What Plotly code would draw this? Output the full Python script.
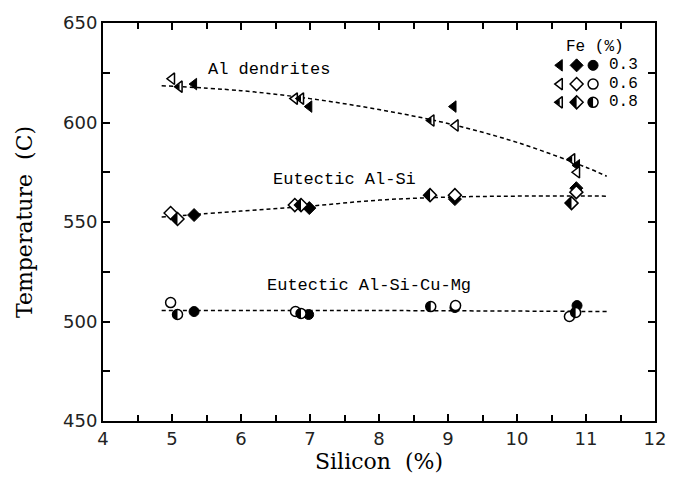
import math
import plotly.graph_objects as go

# ---------------- data ----------------
fe_levels = ["0.3", "0.6", "0.8"]

# Al dendrites (left triangles)
dend_x_03 = [5.32, 6.99, 9.08, 10.87]
dend_y_03 = [619.3, 608.0, 608.0, 578.5]
dend_x_06 = [5.00, 6.78, 9.11, 10.87]
dend_y_06 = [622.0, 612.0, 598.5, 575.0]
dend_x_08 = [5.11, 6.87, 8.76, 10.80]
dend_y_08 = [618.0, 612.0, 601.0, 581.5]

# Eutectic Al-Si (diamonds)
alsi_x_03 = [5.32, 6.99, 9.10, 10.86]
alsi_y_03 = [553.5, 557.0, 561.5, 567.0]
alsi_x_06 = [4.98, 6.78, 9.10, 10.86]
alsi_y_06 = [554.5, 558.5, 563.5, 565.0]
alsi_x_08 = [5.08, 6.87, 8.74, 10.79]
alsi_y_08 = [551.5, 558.5, 563.5, 559.5]

# Eutectic Al-Si-Cu-Mg (circles)
cumg_x_03 = [5.32, 6.98, 9.10, 10.87]
cumg_y_03 = [505.0, 503.5, 507.0, 508.0]
cumg_x_06 = [4.98, 6.79, 9.11, 10.76]
cumg_y_06 = [509.5, 505.0, 508.0, 502.5]
cumg_x_08 = [5.08, 6.87, 8.75, 10.85]
cumg_y_08 = [503.5, 504.0, 507.5, 504.5]

# dashed trend curves
fit_dend_x = [4.85, 6.0, 7.0, 8.0, 9.0, 10.0, 11.0, 11.3]
fit_dend_y = [618.5, 616.0, 612.0, 606.5, 599.5, 590.0, 577.5, 573.0]
fit_alsi_x = [4.85, 6.0, 7.0, 8.0, 9.0, 10.0, 11.3]
fit_alsi_y = [552.5, 555.5, 558.0, 561.0, 562.5, 563.0, 563.0]
fit_cumg_x = [4.85, 8.0, 11.3]
fit_cumg_y = [505.5, 505.5, 505.0]

x_tick_vals = [4, 5, 6, 7, 8, 9, 10, 11, 12]
y_tick_vals = [450, 500, 550, 600, 650]

curve_labels = ["Al dendrites", "Eutectic Al-Si", "Eutectic Al-Si-Cu-Mg"]
curve_label_x = [6.40, 7.50, 7.85]
curve_label_y = [626.7, 571.3, 518.3]

# ---------------- styling ----------------
MONO = "Liberation Mono"
MSIZE = 10
R = MSIZE / 2.0


def half_path(sym):
    """Pixel path (relative to marker centre) of the black left half of a marker."""
    if sym == "circle":
        pts = [(R * math.cos(math.radians(a)), R * math.sin(math.radians(a)))
               for a in range(90, 271, 15)]
    elif sym == "diamond":
        d = R * 1.3
        pts = [(0, d), (-d, 0), (0, -d)]
    else:  # triangle-left
        rt = R * 2 / math.sqrt(3)
        pts = [(0, R * 0.58), (-rt, 0), (0, -R * 0.58)]
    return "M" + "L".join(f"{px:.2f},{py:.2f}" for px, py in pts) + "Z"


def marker_style(kind, sym):
    if kind == "filled":
        return dict(symbol=sym, size=MSIZE, color="black", line=dict(color="black", width=1))
    return dict(symbol=sym, size=MSIZE, color="white", line=dict(color="black", width=1.5))


fig = go.Figure()
shapes = []

# trend lines
for fx, fy in [(fit_dend_x, fit_dend_y), (fit_alsi_x, fit_alsi_y), (fit_cumg_x, fit_cumg_y)]:
    fig.add_trace(go.Scatter(x=fx, y=fy, mode="lines", line_shape="spline",
                             line=dict(color="black", width=1.5, dash="4px,3px"),
                             showlegend=False, hoverinfo="skip"))

series = [
    ("triangle-left", [(dend_x_03, dend_y_03, "filled"), (dend_x_06, dend_y_06, "open"), (dend_x_08, dend_y_08, "half")]),
    ("diamond", [(alsi_x_03, alsi_y_03, "filled"), (alsi_x_06, alsi_y_06, "open"), (alsi_x_08, alsi_y_08, "half")]),
    ("circle", [(cumg_x_03, cumg_y_03, "filled"), (cumg_x_06, cumg_y_06, "open"), (cumg_x_08, cumg_y_08, "half")]),
]
for sym, lst in series:
    for xs, ys, kind in lst:
        fig.add_trace(go.Scatter(x=xs, y=ys, mode="markers", marker=marker_style(kind, sym),
                                 showlegend=False))
        if kind == "half":
            for xv, yv in zip(xs, ys):
                shapes.append(dict(type="path", xref="x", yref="y", xsizemode="pixel",
                                   ysizemode="pixel", xanchor=xv, yanchor=yv,
                                   path=half_path(sym), fillcolor="black",
                                   line=dict(width=0), layer="above"))

# legend key drawn on an overlay axis in plot-fraction units
leg_col_x = [0.8275, 0.858, 0.8878]
leg_row_y = [0.8936, 0.8465, 0.8007]
kinds = ["filled", "open", "half"]
syms = ["triangle-left", "diamond", "circle"]
for r, kind in enumerate(kinds):
    for c, sym in enumerate(syms):
        fig.add_trace(go.Scatter(x=[leg_col_x[c]], y=[leg_row_y[r]], mode="markers",
                                 marker=marker_style(kind, sym), xaxis="x2", yaxis="y2",
                                 showlegend=False, hoverinfo="skip"))
        if kind == "half":
            shapes.append(dict(type="path", xref="paper", yref="paper", xsizemode="pixel",
                               ysizemode="pixel", xanchor=leg_col_x[c], yanchor=leg_row_y[r],
                               path=half_path(sym), fillcolor="black",
                               line=dict(width=0), layer="above"))

annotations = []
for t, ax_, ay_ in zip(curve_labels, curve_label_x, curve_label_y):
    annotations.append(dict(x=ax_, y=ay_, xref="x", yref="y", text=t, showarrow=False,
                            xanchor="center", yanchor="middle",
                            font=dict(family=MONO, size=17, color="black")))
annotations.append(dict(x=0.892, y=0.939, xref="paper", yref="paper", text="Fe (%)",
                        showarrow=False, xanchor="center", yanchor="middle",
                        font=dict(family=MONO, size=16, color="black")))
for r, lab in enumerate(fe_levels):
    annotations.append(dict(x=0.9434, y=leg_row_y[r], xref="paper", yref="paper", text=lab,
                            showarrow=False, xanchor="center", yanchor="middle",
                            font=dict(family=MONO, size=16, color="black")))

axis_common = dict(showline=True, linecolor="black", linewidth=2, mirror="ticks",
                   ticks="inside", ticklen=7, tickwidth=1.5, tickcolor="black",
                   showgrid=False, zeroline=False,
                   tickfont=dict(family="DejaVu Sans", size=18, color="#222"))

fig.update_layout(
    width=678, height=483,
    margin=dict(l=103, r=18, t=14, b=62),
    paper_bgcolor="white", plot_bgcolor="white",
    showlegend=False,
    xaxis=dict(range=[4, 12], tickvals=x_tick_vals,
               minor=dict(dtick=0.5, ticks="inside", ticklen=6, tickcolor="black", tickwidth=1.5),
               title=dict(text="Silicon  (%)", font=dict(family="DejaVu Serif", size=22, color="black"), standoff=6),
               **axis_common),
    yaxis=dict(range=[450, 650], tickvals=y_tick_vals,
               minor=dict(dtick=25, ticks="inside", ticklen=7, tickcolor="black", tickwidth=1.5),
               title=dict(text="Temperature  (C)", font=dict(family="DejaVu Serif", size=22, color="black"), standoff=24),
               **axis_common),
    xaxis2=dict(range=[0, 1], overlaying="x", visible=False),
    yaxis2=dict(range=[0, 1], overlaying="y", visible=False),
    annotations=annotations,
    shapes=shapes,
)

fig.write_html("out.html")
